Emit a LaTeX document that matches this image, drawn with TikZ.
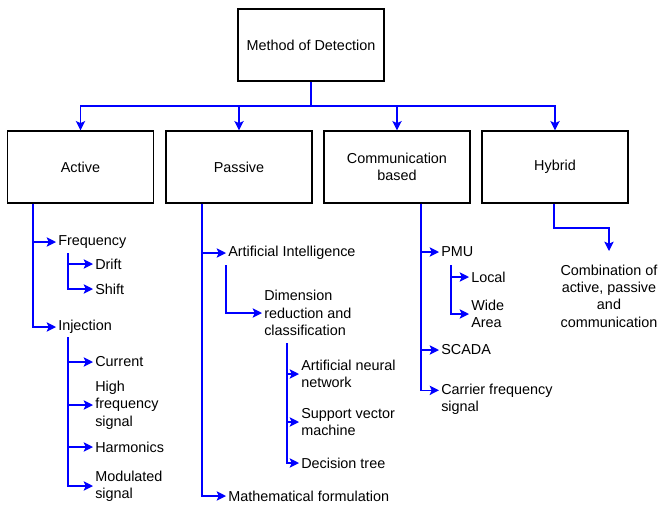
\documentclass[tikz,border=0pt]{standalone}
\usepackage{fontspec}
\setmainfont{Liberation Sans}
\usetikzlibrary{arrows.meta}
\tikzset{
 box/.style={draw,line width=0.9pt,minimum width=109.5pt,minimum height=54pt,align=center},
 bus/.style={blue,line width=0.9pt},
 link/.style={bus,-{Stealth[length=7pt,width=7pt,inset=1.5pt]}},
 item/.style={anchor=west,inner sep=1.5pt,align=left},
}
\begin{document}
\begin{tikzpicture}[x=0.75pt,y=-0.75pt,font=\fontsize{10.8}{13}\selectfont]
\useasboundingbox (0,0) rectangle (658,508);
\node[box] (method) at (311,45) {Method of Detection};
\node[box] (act) at (80.5,167) {Active};
\node[box] (pas) at (239,167) {Passive};
\node[box] (com) at (397,167) {Communication\\based};
\node[box] (hyb) at (555,167) {Hybrid};
\coordinate (top) at (311,106);
\draw[bus] (method.south) -- (top);
\foreach \n in {act,pas,com,hyb}
  \draw[link] (top) -| (\n.north);
% active
\node[item] (freq) at (56,242) {Frequency};
\node[item] (drift) at (93,264) {Drift};
\node[item] (shift) at (93,289) {Shift};
\node[item] (inj) at (56,327) {Injection};
\node[item] (cur) at (93,362) {Current};
\node[item] (hfs) at (93,405) {High\\frequency\\signal};
\node[item] (harm) at (93,447) {Harmonics};
\node[item] (mod) at (93,486) {Modulated\\signal};
\coordinate (abus) at (33,0);
\coordinate (fbus) at (68,253);
\coordinate (ibus) at (68,337);
\draw[link] (act.south -| abus) |- (freq.west);
\draw[link] (act.south -| abus) |- (inj.west);
\foreach \n in {drift,shift}
  \draw[link] (fbus) |- (\n.west);
\foreach \n in {cur,hfs,harm,mod}
  \draw[link] (ibus) |- (\n.west);
% passive
\node[item] (ai) at (226,253) {Artificial Intelligence};
\node[item] (dim) at (262,313) {Dimension\\reduction and\\classification};
\node[item] (ann) at (299,374) {Artificial neural\\network};
\node[item] (svm) at (299,422) {Support vector\\machine};
\node[item] (dt) at (299,463) {Decision tree};
\node[item] (math) at (226,496) {Mathematical formulation};
\coordinate (pbus) at (202,0);
\coordinate (aibus) at (226,265);
\coordinate (dbus) at (287,343);
\draw[link] (pas.south -| pbus) |- (ai.west);
\draw[link] (pas.south -| pbus) |- (math.west);
\draw[link] (aibus) |- (dim.west);
\foreach \n in {ann,svm,dt}
  \draw[link] (dbus) |- (\n.west);
% communication
\node[item] (pmu) at (439,252) {PMU};
\node[item] (local) at (469,277) {Local};
\node[item] (wide) at (469,314) {Wide\\Area};
\node[item] (scada) at (439,350) {SCADA};
\node[item] (cfs) at (439,399) {Carrier frequency\\signal};
\coordinate (cbus) at (421,0);
\coordinate (pmubus) at (451,265);
\foreach \n in {pmu,scada}
  \draw[link] (com.south -| cbus) |- (\n.west);
\draw[link] (com.south -| cbus) |- ([yshift=6.5pt]cfs.west);
\foreach \n in {local,wide}
  \draw[link] (pmubus) |- (\n.west);
% hybrid
\node[align=center,anchor=north,inner ysep=10pt] (comb) at (609,251) {Combination of\\active, passive\\and\\communication};
\coordinate (hbend) at (554,228);
\draw[link] (hyb.south -| hbend) -- (hbend) -| (comb.north);
\end{tikzpicture}
\end{document}
